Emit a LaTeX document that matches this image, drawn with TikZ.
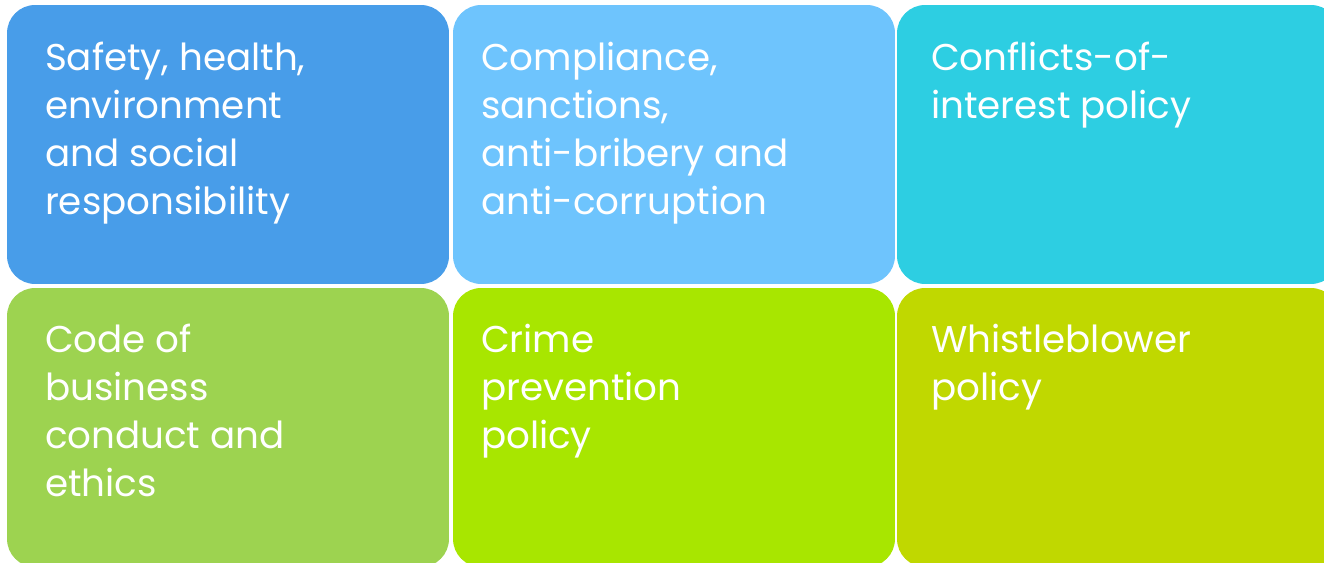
\documentclass[tikz,border=0pt]{standalone}
\usepackage{fontspec}
\setmainfont{Poppins}
\usetikzlibrary{positioning}

\definecolor{tileblue}{HTML}{489DE9}
\definecolor{tilesky}{HTML}{6EC4FD}
\definecolor{tilecyan}{HTML}{2DCEE2}
\definecolor{tilegreen}{HTML}{9DD350}
\definecolor{tilelime}{HTML}{A8E600}
\definecolor{tileolive}{HTML}{C0D800}

\begin{document}
\begin{tikzpicture}[x=0.02cm,y=-0.02cm,
tile/.style ={rectangle, rounded corners=0.56cm, inner sep=0pt, minimum width=8.84cm, minimum height=5.58cm},
caption/.style ={text=white, align=left, inner sep=0pt, font=\fontsize{21.2pt}{27.3pt}\selectfont, execute at begin node=\strut}
]
\useasboundingbox (0,0) rectangle (1324,563);
\clip (0,0) rectangle (1324,563);

% top row
\draw (228,144.5) node[tile, fill=tileblue] (shes) {};
\draw (674,144.5) node[tile, fill=tilesky] (compl) {};
\draw (1118,144.5) node[tile, fill=tilecyan] (confl) {};
% bottom row
\draw (228,427.5) node[tile, fill=tilegreen] (code) {};
\draw (674,427.5) node[tile, fill=tilelime] (crime) {};
\draw (1118,427.5) node[tile, fill=tileolive] (whistle) {};

\node[caption, below right=0.75cm and 0.76cm of shes.north west] (shestext) {Safety, health,\\environment\\and social\\responsibility};
\node[caption, below right=0.75cm and 0.56cm of compl.north west] (compltext) {Compliance,\\sanctions,\\anti-bribery and\\anti-corruption};
\node[caption, below right=0.75cm and 0.68cm of confl.north west] (confltext) {Conflicts-of-\\interest policy};
\node[caption, below right=0.72cm and 0.76cm of code.north west] (codetext) {Code of\\business\\conduct and\\ethics};
\node[caption, below right=0.72cm and 0.56cm of crime.north west] (crimetext) {Crime\\prevention\\policy};
\node[caption, below right=0.72cm and 0.68cm of whistle.north west] (whistletext) {Whistleblower\\policy};

\end{tikzpicture}
\end{document}
